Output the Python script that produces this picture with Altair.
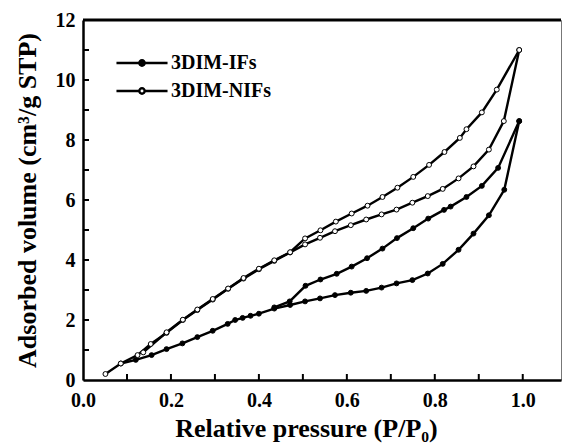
import altair as alt
import pandas as pd

# ---------------- data ----------------
ifs_ads_x = [0.086, 0.12, 0.156, 0.19, 0.226, 0.26, 0.295, 0.329, 0.346, 0.363, 0.381, 0.40,
             0.435, 0.471, 0.505, 0.539, 0.573, 0.609, 0.644, 0.679, 0.713, 0.749, 0.784,
             0.818, 0.854, 0.888, 0.923, 0.958, 0.992]
ifs_ads_y = [0.55, 0.67, 0.83, 1.03, 1.22, 1.43, 1.64, 1.87, 2.00, 2.07, 2.14, 2.21,
             2.38, 2.50, 2.62, 2.72, 2.83, 2.91, 2.97, 3.08, 3.22, 3.33, 3.55,
             3.87, 4.34, 4.88, 5.49, 6.34, 8.63]

ifs_des_x = [0.992, 0.944, 0.907, 0.872, 0.836, 0.821, 0.785, 0.751, 0.714, 0.681, 0.646,
             0.611, 0.577, 0.540, 0.506, 0.470, 0.435]
ifs_des_y = [8.63, 7.07, 6.47, 6.10, 5.78, 5.67, 5.38, 5.06, 4.73, 4.38, 4.06,
             3.78, 3.54, 3.35, 3.14, 2.62, 2.42]

nifs_ads_x = [0.051, 0.086, 0.124, 0.154, 0.19, 0.227, 0.26, 0.295, 0.33, 0.365, 0.40,
              0.435, 0.471, 0.505, 0.539, 0.573, 0.609, 0.644, 0.679, 0.713, 0.749,
              0.784, 0.818, 0.854, 0.888, 0.923, 0.957, 0.992]
nifs_ads_y = [0.20, 0.55, 0.83, 1.20, 1.57, 2.00, 2.33, 2.68, 3.04, 3.38, 3.69,
              3.97, 4.25, 4.52, 4.74, 4.96, 5.16, 5.35, 5.52, 5.68, 5.91,
              6.13, 6.37, 6.72, 7.12, 7.68, 8.63, 11.00]

nifs_des_x = [0.992, 0.941, 0.907, 0.872, 0.857, 0.822, 0.787, 0.751, 0.715, 0.681, 0.647,
              0.611, 0.575, 0.540, 0.505, 0.471, 0.435, 0.40, 0.365, 0.33, 0.295, 0.26,
              0.227, 0.19, 0.137]
nifs_des_y = [11.00, 9.68, 8.92, 8.36, 8.07, 7.60, 7.17, 6.77, 6.41, 6.10, 5.81,
              5.55, 5.28, 4.99, 4.72, 4.26, 3.99, 3.71, 3.40, 3.05, 2.70, 2.35,
              2.01, 1.59, 0.92]

series_names = ["3DIM-IFs", "3DIM-NIFs"]
x_tick_values = [0.1, 0.2, 0.3, 0.4, 0.5, 0.6, 0.7, 0.8, 0.9, 1.0]
x_label_values = [0.0, 0.2, 0.4, 0.6, 0.8, 1.0]
y_tick_values = [1, 2, 3, 4, 5, 6, 7, 8, 9, 10, 11]
y_label_values = [0, 2, 4, 6, 8, 10, 12]

# ---------------- table ----------------
rows = []
for name, branch, xs, ys in [
    (series_names[0], "ads", ifs_ads_x, ifs_ads_y),
    (series_names[0], "des", ifs_des_x, ifs_des_y),
    (series_names[1], "ads", nifs_ads_x, nifs_ads_y),
    (series_names[1], "des", nifs_des_x, nifs_des_y),
]:
    for i, (xv, yv) in enumerate(zip(xs, ys)):
        rows.append({"x": xv, "y": yv, "series": name, "branch": name + "-" + branch, "i": i})
df = pd.DataFrame(rows)

xtick_df = pd.DataFrame({"x": x_tick_values})
ytick_df = pd.DataFrame({"y": y_tick_values})

FONT = "'Liberation Serif', 'Times New Roman', Times, serif"
W, H = 478, 360

xscale = alt.Scale(domain=[0, 1.087], nice=False, zero=False)
yscale = alt.Scale(domain=[0, 12], nice=False)

xaxis = alt.Axis(
    values=x_label_values, format=".1f", grid=False, ticks=False, labelFlush=False,
    labelFont=FONT, labelFontWeight="bold", labelFontSize=20, labelColor="black",
    labelPadding=10, domainColor="black", domainWidth=2.5,
    title="Relative pressure (P/P\u2080)", titleFont=FONT, titleFontWeight="bold",
    titleFontSize=26, titleColor="black", titlePadding=5, titleX=223,
)
yaxis = alt.Axis(
    values=y_label_values, format="d", grid=False, ticks=False, labelFlush=False,
    labelFont=FONT, labelFontWeight="bold", labelFontSize=20, labelColor="black",
    labelPadding=8, domainColor="black", domainWidth=2.5,
    title="Adsorbed volume (cm\u00b3/g STP)", titleFont=FONT, titleFontWeight="bold",
    titleFontSize=26, titleColor="black", titlePadding=15,
)

X = alt.X("x:Q", scale=xscale, axis=xaxis)
Y = alt.Y("y:Q", scale=yscale, axis=yaxis)

legend_path = ("M-4,0H-0.42M0.42,0H4M0.42,0A0.42,0.42,0,1,1,-0.42,0"
               "A0.42,0.42,0,1,1,0.42,0Z")

lines = alt.Chart(df).mark_line(color="black", strokeWidth=2.4).encode(
    x=X, y=Y, detail="branch:N", order="i:Q"
)

points = alt.Chart(df).mark_point(
    shape="circle", filled=True, stroke="black", strokeWidth=1, opacity=1, size=24
).encode(
    x=X, y=Y,
    fill=alt.Fill(
        "series:N",
        scale=alt.Scale(domain=series_names, range=["black", "white"]),
        legend=alt.Legend(
            title=None, orient="none", legendX=49, legendY=33,
            symbolType=legend_path, symbolSize=163,
            symbolStrokeColor="black", symbolStrokeWidth=2.4,
            labelFont=FONT, labelFontWeight="bold", labelFontSize=20,
            labelColor="black", labelOffset=19, rowPadding=8, padding=0,
        ),
    ),
)

xticks = alt.Chart(xtick_df).mark_rule(color="black", strokeWidth=2).encode(
    x=X, y=alt.value(H), y2=alt.value(H - 6)
)
yticks = alt.Chart(ytick_df).mark_rule(color="black", strokeWidth=2).encode(
    y=Y, x=alt.value(0), x2=alt.value(6)
)
top_border = alt.Chart(pd.DataFrame({"y": [12]})).mark_rule(
    color="black", strokeWidth=3
).encode(y=Y)

chart = alt.layer(lines, points, xticks, yticks, top_border).properties(
    width=W, height=H,
    autosize=alt.AutoSizeParams(type="none"),
    padding={"left": 83, "top": 20, "right": 5, "bottom": 64},
    background="white",
).configure_view(stroke="#777", strokeWidth=1)

chart.save("out.html", embed_options={"renderer": "svg", "actions": False})
